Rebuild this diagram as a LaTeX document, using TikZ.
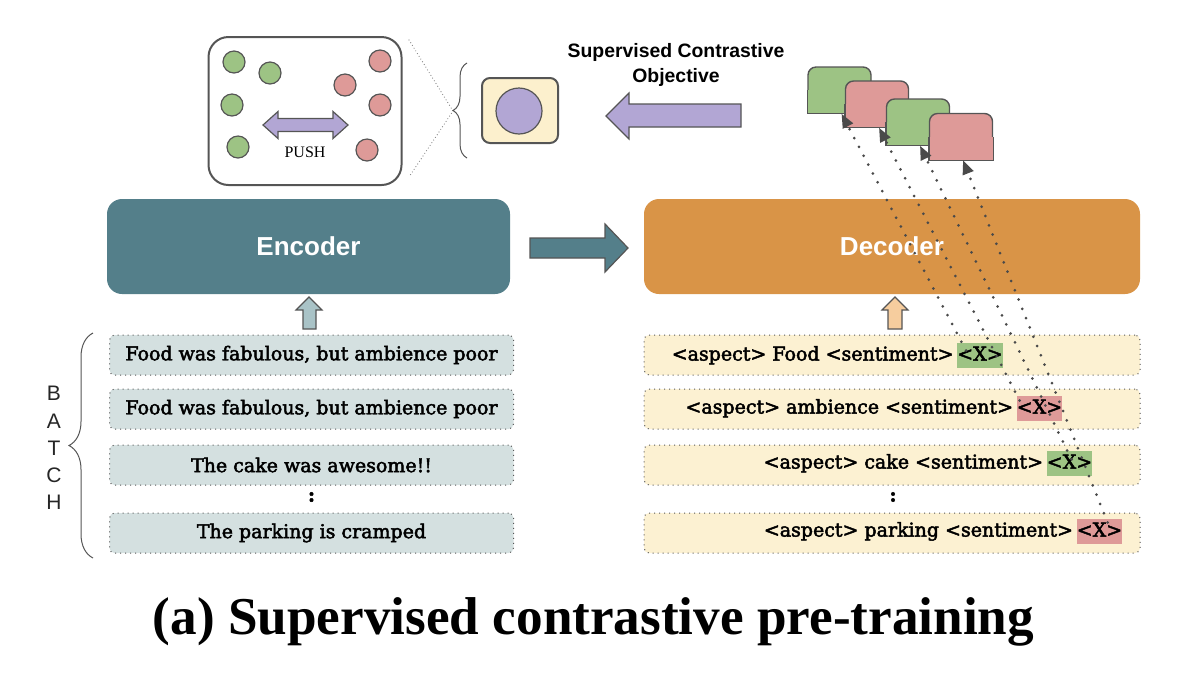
\documentclass[tikz,border=0pt]{standalone}
\usepackage{fontspec}
\setmainfont{Liberation Serif}
\setsansfont{Liberation Sans}
\newfontfamily\boxfont[FakeBold=2.5]{DejaVu Serif}
\usetikzlibrary{arrows.meta,calc,decorations.pathreplacing}
\definecolor{encteal}{HTML}{547F8A}
\definecolor{decorange}{HTML}{D99447}
\definecolor{lrowfill}{HTML}{D4E0E0}
\definecolor{rrowfill}{HTML}{FCF1D2}
\definecolor{ggreen}{HTML}{9DC384}
\definecolor{rred}{HTML}{DE9A98}
\definecolor{ppurple}{HTML}{B2A6D4}
\definecolor{encup}{HTML}{A9C3C7}
\definecolor{decup}{HTML}{F6CD9E}
\definecolor{linegray}{HTML}{555555}
\definecolor{dotgray}{HTML}{4A4A4A}
\definecolor{yellowbox}{HTML}{FCF0CD}
\newcommand\stackbox[4]{%
  \node[stk,fill=#4] (#1) at (#2,#3) {};
  \fill[#4] (#1.west) rectangle (#1.south east);
  \draw[draw=linegray,line width=0.7pt] (#1.west) -- (#1.south west) -- (#1.south east) -- (#1.east);
}
\begin{document}
\begin{tikzpicture}[x=0.5pt,y=-0.5pt,
  outl/.style={draw=linegray,line width=0.6pt},
  bigbox/.style={rounded corners=7.5pt,minimum height=47.5pt,inner sep=0pt,
     text=white,font=\sffamily\bfseries\fontsize{13}{15}\selectfont},
  lrow/.style={draw=linegray,dotted,line width=0.5pt,rounded corners=2.5pt,fill=lrowfill,
     minimum width=202pt,minimum height=20pt,inner sep=0pt,
     font=\boxfont\fontsize{9.5}{11}\selectfont},
  rrow/.style={draw=linegray,dotted,line width=0.5pt,rounded corners=2.5pt,fill=rrowfill,
     minimum width=248pt,minimum height=20pt,inner sep=0pt},
  rtext/.style={inner sep=0pt,text height=7pt,text depth=2pt,font=\boxfont\fontsize{9.5}{11}\selectfont},
  xtok/.style={inner sep=0pt,minimum width=22pt,minimum height=12.5pt,text height=7pt,text depth=2pt,
     font=\boxfont\fontsize{9.5}{11}\selectfont},
  dotsym/.style={font=\boxfont\bfseries\fontsize{9.5}{11}\selectfont,inner sep=0pt},
  dot/.style={circle,draw=linegray,line width=0.6pt,minimum size=11pt,inner sep=0pt},
  stk/.style={draw=linegray,line width=0.7pt,rounded corners=4pt,minimum width=31.5pt,minimum height=23pt,inner sep=0pt},
  dotarrow/.style={draw=dotgray,line width=1.5pt,line cap=round,dash pattern=on 0pt off 5pt,
     -{Triangle[length=7pt,width=5.5pt]}},
  thindot/.style={draw=gray,line width=0.6pt,line cap=round,dash pattern=on 0pt off 1.6pt},
]
\useasboundingbox (0,0) rectangle (1186,682);

% ---- top-left embedding box
\node[draw=linegray,line width=1pt,rounded corners=10pt,minimum width=96.5pt,minimum height=74pt,inner sep=0pt] (emb) at (305,111) {};
\node[dot,fill=ggreen] (g1c) at (234,62) {};
\node[dot,fill=ggreen] (g2c) at (270,73) {};
\node[dot,fill=ggreen] (g3c) at (232,105) {};
\node[dot,fill=ggreen] (g4c) at (238,147) {};
\node[dot,fill=rred] (r1c) at (380,61) {};
\node[dot,fill=rred] (r2c) at (345,85) {};
\node[dot,fill=rred] (r3c) at (380,105) {};
\node[dot,fill=rred] (r4c) at (367,150) {};
\draw[outl,fill=ppurple] (263,125) -- (278,111.5) -- (278,118.5) -- (333,118.5) -- (333,111.5) -- (348,125)
   -- (333,138.5) -- (333,131.5) -- (278,131.5) -- (278,138.5) -- cycle;
\node[font=\fontsize{8}{9}\selectfont,inner sep=0pt] (push) at (305,152) {PUSH};

% dotted zoom lines and brace
\coordinate (zl1) at (409,40);
\coordinate (zl2) at (409,177);
\coordinate (btip) at (453,111);
\draw[thindot] (zl1) -- (btip) -- (zl2);
\draw[draw=linegray,line width=0.5pt,decorate,decoration={brace,amplitude=7pt}] (467,158) -- (467,63);

% yellow box with purple circle
\node[draw=linegray,line width=1pt,rounded corners=4pt,fill=yellowbox,minimum width=38pt,minimum height=32.5pt,inner sep=0pt] (ybox) at (520,110.5) {};
\node[circle,draw=linegray,line width=0.6pt,fill=ppurple,minimum size=23pt,inner sep=0pt] (pc) at (519,111) {};

% big purple arrow
\draw[outl,fill=ppurple] (606,116) -- (629,93) -- (629,104) -- (741,104) -- (741,127) -- (629,127) -- (629,139) -- cycle;
\node[font=\sffamily\bfseries\fontsize{9.7}{12.5}\selectfont,align=center,inner sep=0pt] (obj) at (676,65)
  {Supervised Contrastive\\Objective};

% stacked output boxes
\stackbox{sg1}{839.5}{90}{ggreen}
\stackbox{sr1}{877}{104}{rred}
\stackbox{sg2}{918}{122}{ggreen}
\stackbox{sr2}{961}{136.5}{rred}

% encoder / decoder
\node[bigbox,fill=encteal,minimum width=201.5pt] (enc) at (308.5,246.5) {Encoder};
\node[bigbox,fill=decorange,minimum width=248pt] (dec) at (892,246.5) {Decoder};
\draw[outl,fill=encteal] (530,238) -- (605,238) -- (605,224) -- (628,248) -- (605,272) -- (605,258) -- (530,258) -- cycle;

% up arrows
\draw[outl,fill=encup] (309,297) -- (322,310) -- (316,310) -- (316,329) -- (303,329) -- (303,310) -- (296,310) -- cycle;
\draw[outl,fill=decup] (895,297) -- (908,310) -- (902,310) -- (902,329) -- (888,329) -- (888,310) -- (882,310) -- cycle;

% left rows
\node[lrow] (l1) at (311.5,355) {Food was fabulous, but ambience poor};
\node[lrow] (l2) at (311.5,409) {Food was fabulous, but ambience poor};
\node[lrow] (l3) at (311.5,465) {The cake was awesome!!};
\node[dotsym] (ld) at (311.5,497) {:};
\node[lrow] (l4) at (311.5,533) {The parking is cramped};

% batch label
\node[font=\sffamily\fontsize{10.5}{13.6}\selectfont,align=center,inner sep=0pt,text=black!85] (batch) at (54,448) {B\\A\\T\\C\\H};
\draw[draw=linegray,line width=0.5pt,decorate,decoration={brace,amplitude=12pt}] (93,558) -- (93,333);

% right rows
\node[rrow] (q1) at (892,355) {};
\node[rrow] (q2) at (892,409) {};
\node[rrow] (q3) at (892,465) {};
\node[dotsym] (rd) at (893,497) {:};
\node[rrow] (q4) at (892,533) {};

\node[xtok,fill=ggreen] (x1) at (980,355.5) {<X>};
\node[xtok,fill=rred] (x2) at (1039.5,408.5) {<X>};
\node[xtok,fill=ggreen] (x3) at (1069.5,463.5) {<X>};
\node[xtok,fill=rred] (x4) at (1099.5,531.5) {<X>};
\node[rtext,anchor=east] (t1) at ($(x1.west)+(-3,0)$) {<aspect> Food <sentiment>};
\node[rtext,anchor=east] (t2) at ($(x2.west)+(-3,0)$) {<aspect> ambience <sentiment>};
\node[rtext,anchor=east] (t3) at ($(x3.west)+(-3,0)$) {<aspect> cake <sentiment>};
\node[rtext,anchor=east] (t4) at ($(x4.west)+(-3,0)$) {<aspect> parking <sentiment>};

% dotted arrows from tokens to stacked boxes
\draw[dotarrow] ($(x1)+(-14,-5)$) -- ([xshift=1]sg1.south);
\draw[dotarrow] ($(x2)+(-20,-8)$) -- ([xshift=1]sr1.south);
\draw[dotarrow] ($(x3)+(2,-4)$) -- ([xshift=1]sg2.south);
\draw[dotarrow] ($(x4)+(8,-9)$) -- ([xshift=1]sr2.south);

% caption
\node[font=\bfseries\fontsize{26.6}{30}\selectfont,inner sep=0pt] (cap) at (593.5,622) {(a) Supervised contrastive pre-training};
\end{tikzpicture}
\end{document}
